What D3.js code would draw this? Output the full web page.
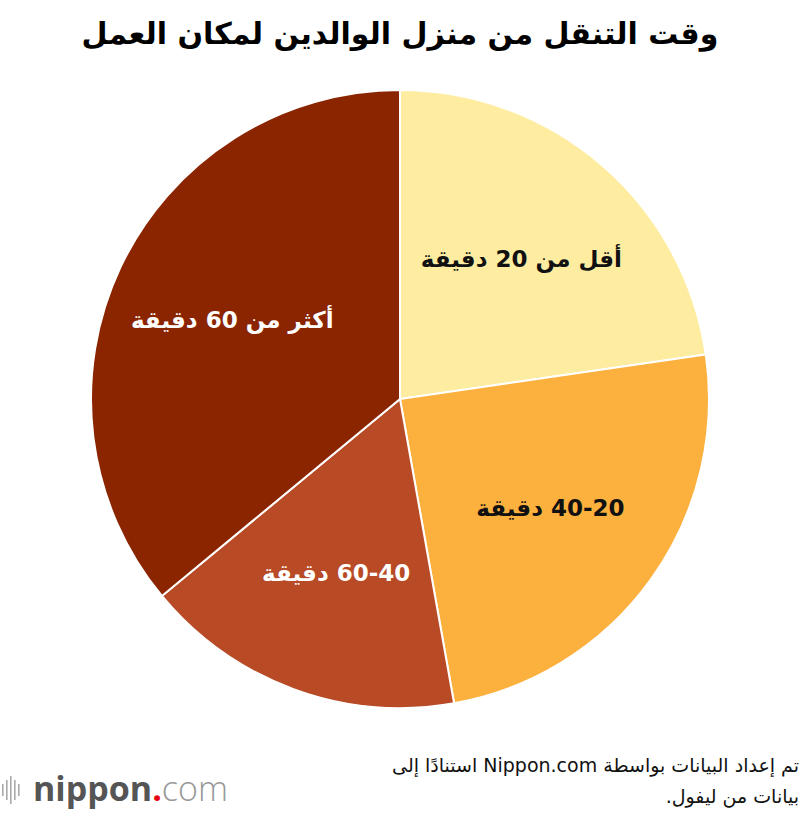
<!DOCTYPE html>
<html>
<head>
<meta charset="utf-8">
<script src="https://cdn.jsdelivr.net/npm/d3@7"></script>
<style>
html,body{margin:0;padding:0;background:#fff;}
svg{display:block;}
</style>
</head>
<body>
<svg id="chart" width="800" height="814"></svg>
<script>
const categories = ["أقل من 20 دقيقة", "40-20 دقيقة", "60-40 دقيقة", "أكثر من 60 دقيقة"];
const values = [22.7, 24.5, 16.8, 36.0];
const colors = ["#FEEDA1", "#FCB03D", "#B84A26", "#8B2500"];
const labelColors = ["#111", "#111", "#fff", "#fff"];
const title = "وقت التنقل من منزل الوالدين لمكان العمل";
const sourceLines = ["تم إعداد البيانات بواسطة Nippon.com استنادًا إلى", "بيانات من ليفول."];

const svg = d3.select("#chart");
const cx = 400, cy = 399, r = 309;
const arabicFont = "'DejaVu Sans', 'Noto Sans', sans-serif";

svg.append("text")
  .attr("x", 400).attr("y", 44)
  .attr("text-anchor", "middle")
  .attr("direction", "rtl")
  .style("font-family", arabicFont)
  .style("font-weight", "bold")
  .style("font-size", "30px")
  .attr("fill", "#000")
  .text(title);

const data = categories.map((c, i) => ({cat: c, value: values[i], color: colors[i], lc: labelColors[i]}));
const pie = d3.pie().value(d => d.value).sort(null);
const arc = d3.arc().innerRadius(0).outerRadius(r);
const labelArc = d3.arc().innerRadius(r * 0.6).outerRadius(r * 0.6);

const g = svg.append("g").attr("transform", `translate(${cx},${cy})`);
const arcs = pie(data);
g.selectAll("path").data(arcs).join("path")
  .attr("d", arc)
  .attr("fill", d => d.data.color)
  .attr("stroke", "#fff")
  .attr("stroke-width", 2);

g.selectAll("text.lbl").data(arcs).join("text")
  .attr("class", "lbl")
  .attr("transform", d => `translate(${labelArc.centroid(d)})`)
  .attr("text-anchor", "middle")
  .attr("dy", "0.35em")
  .attr("direction", "rtl")
  .style("font-family", arabicFont)
  .style("font-weight", "bold")
  .style("font-size", "23px")
  .attr("fill", d => d.data.lc)
  .text(d => d.data.cat);

svg.selectAll("text.src").data(sourceLines).join("text")
  .attr("class", "src")
  .attr("x", 799).attr("y", (d, i) => 772 + i * 31)
  .attr("text-anchor", "start")
  .attr("direction", "rtl")
  .style("font-family", arabicFont)
  .style("font-size", "19px")
  .attr("fill", "#111")
  .text(d => d);

// logo
const logo = svg.append("g");
const barsX = [2, 6, 10, 14, 18];
const barsH = [12, 20, 28, 20, 12];
logo.selectAll("rect").data(barsX).join("rect")
  .attr("x", d => d).attr("width", 1.6)
  .attr("y", (d, i) => 790 - barsH[i] / 2)
  .attr("height", (d, i) => barsH[i])
  .attr("fill", "#aaa");
const lt = logo.append("text").attr("x", 33).attr("y", 801)
  .style("font-family", "'Open Sans', sans-serif")
  .style("font-size", "34px");
lt.append("tspan").attr("fill", "#555").style("font-weight", "bold").text("nippon");
lt.append("tspan").attr("fill", "#E60012").style("font-weight", "bold").text(".");
lt.append("tspan").attr("fill", "#999").style("font-weight", "300").text("com");
</script>
</body>
</html>
